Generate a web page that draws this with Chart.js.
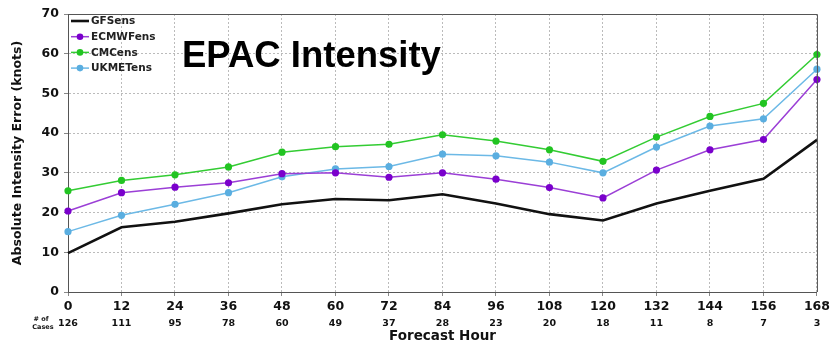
<!DOCTYPE html>
<html>
<head>
<meta charset="utf-8">
<script src="https://cdn.jsdelivr.net/npm/chart.js@4"></script>
<style>
  html, body { margin: 0; padding: 0; background: #fff; }
  #wrap { width: 833px; height: 342px; }
</style>
</head>
<body>
<div id="wrap"><canvas id="epacChart" width="833" height="342"></canvas></div>
<script>
const hours = ['0', '12', '24', '36', '48', '60', '72', '84', '96', '108', '120', '132', '144', '156', '168'];
const cases = ['126', '111', '95', '78', '60', '49', '37', '28', '23', '20', '18', '11', '8', '7', '3'];
const gfsEns = [9.8, 16.3, 17.7, 19.8, 22.1, 23.4, 23.1, 24.6, 22.3, 19.6, 18.0, 22.3, 25.5, 28.5, 38.3];
const ecmwfEns = [20.4, 25.0, 26.4, 27.5, 29.8, 30.0, 28.9, 30.0, 28.4, 26.3, 23.7, 30.7, 35.8, 38.4, 53.5];
const cmcEns = [25.5, 28.1, 29.5, 31.5, 35.2, 36.6, 37.2, 39.6, 38.0, 35.8, 32.9, 39.0, 44.2, 47.5, 59.8];
const ukmetEns = [15.2, 19.3, 22.1, 25.0, 29.0, 31.0, 31.6, 34.7, 34.3, 32.7, 30.0, 36.5, 41.8, 43.6, 56.1];

const bold = 'bold';
const dejavu = "'DejaVu Sans', sans-serif";

// legend, title, plot frame and the "# of cases" row
const extras = {
    id: 'extras',
    afterDraw(chart) {
        const ctx = chart.ctx;
        const area = chart.chartArea;
        const x = chart.scales.x;
        ctx.save();

        // frame top/right
        ctx.strokeStyle = '#555';
        ctx.lineWidth = 1;
        ctx.beginPath();
        ctx.moveTo(area.left, area.top + 0.5);
        ctx.lineTo(area.right + 0.5, area.top + 0.5);
        ctx.lineTo(area.right + 0.5, area.bottom);
        ctx.stroke();

        // legend
        chart.data.datasets.forEach((ds, i) => {
            const y = 21 + i * 15.7;
            ctx.strokeStyle = ds.borderColor;
            ctx.lineWidth = ds.borderWidth;
            ctx.beginPath();
            ctx.moveTo(71, y);
            ctx.lineTo(89, y);
            ctx.stroke();
            if (ds.pointRadius > 0) {
                ctx.fillStyle = ds.pointBackgroundColor;
                ctx.beginPath();
                ctx.arc(80, y, 3.3, 0, Math.PI * 2);
                ctx.fill();
            }
            ctx.fillStyle = '#222';
            ctx.font = bold + ' 10.5px ' + dejavu;
            ctx.textAlign = 'left';
            ctx.textBaseline = 'middle';
            ctx.fillText(ds.label, 91, y + 0.5);
        });

        // title
        ctx.fillStyle = '#000';
        ctx.font = "bold 36.5px 'Liberation Sans', Arial, sans-serif";
        ctx.textAlign = 'left';
        ctx.textBaseline = 'alphabetic';
        ctx.fillText('EPAC Intensity', 182, 67);

        // number of cases
        ctx.fillStyle = '#111';
        ctx.font = bold + ' 9.5px ' + dejavu;
        ctx.textAlign = 'center';
        ctx.textBaseline = 'middle';
        cases.forEach((c, i) => {
            ctx.fillText(c, x.getPixelForTick(i), 324);
        });
        ctx.font = bold + ' 6.5px ' + dejavu;
        ctx.fillText('# of', 41, 319);
        ctx.fillText('Cases', 43, 327);
        ctx.restore();
    }
};

const data = {
    labels: hours,
    datasets: [{
            label: 'GFSens',
            data: gfsEns,
            borderColor: '#111111',
            backgroundColor: '#111111',
            pointBackgroundColor: '#111111',
            borderWidth: 2.6,
            pointRadius: 0
        },
        {
            label: 'ECMWFens',
            data: ecmwfEns,
            borderColor: '#9b3fd6',
            backgroundColor: '#7a00cc',
            pointBackgroundColor: '#7a00cc',
            pointBorderWidth: 0,
            borderWidth: 1.5,
            pointRadius: 3.6
        },
        {
            label: 'CMCens',
            data: cmcEns,
            borderColor: '#33cc33',
            backgroundColor: '#22c422',
            pointBackgroundColor: '#22c422',
            pointBorderWidth: 0,
            borderWidth: 1.5,
            pointRadius: 3.6
        },
        {
            label: 'UKMETens',
            data: ukmetEns,
            borderColor: '#6cb9e6',
            backgroundColor: '#5aaee0',
            pointBackgroundColor: '#5aaee0',
            pointBorderWidth: 0,
            borderWidth: 1.5,
            pointRadius: 3.6
        }
    ]
};

const config = {
    type: 'line',
    data: data,
    options: {
        responsive: false,
        animation: false,
        layout: { padding: { left: 0, right: 13, top: 14, bottom: 0 } },
        plugins: {
            legend: { display: false },
            tooltip: { enabled: false }
        },
        scales: {
            x: {
                offset: false,
                afterFit: (s) => { s.height = 50; },
                grid: {
                    color: '#bbbbbb',
                    lineWidth: 1,
                    tickLength: 4,
                    tickColor: '#888'
                },
                border: { color: '#555', dash: [2, 2], width: 1 },
                ticks: {
                    color: '#111',
                    padding: 3,
                    maxRotation: 0,
                    autoSkip: false,
                    font: { family: dejavu, size: 12.5, weight: bold }
                },
                title: {
                    display: true,
                    text: 'Forecast Hour',
                    color: '#111',
                    padding: { top: 18, bottom: -3 },
                    font: { family: dejavu, size: 13.5, weight: bold }
                }
            },
            y: {
                min: 0,
                max: 70,
                afterFit: (s) => { s.width = 68; },
                grid: {
                    color: '#bbbbbb',
                    lineWidth: 1,
                    tickLength: 4,
                    tickColor: '#888'
                },
                border: { color: '#555', dash: [2, 2], width: 1 },
                ticks: {
                    stepSize: 10,
                    color: '#111',
                    padding: 5,
                    font: { family: dejavu, size: 12.5, weight: bold }
                },
                title: {
                    display: true,
                    text: 'Absolute Intensity Error (knots)',
                    color: '#111',
                    padding: { top: 10, bottom: 0 },
                    font: { family: dejavu, size: 12.5, weight: bold }
                }
            }
        }
    },
    plugins: [extras]
};

const epacChart = new Chart(document.getElementById('epacChart'), config);
</script>
</body>
</html>
